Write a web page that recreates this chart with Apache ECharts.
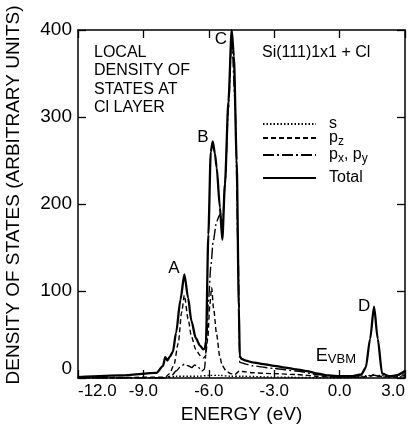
<!DOCTYPE html>
<html>
<head>
<meta charset="utf-8">
<script src="https://cdn.jsdelivr.net/npm/echarts@6/dist/echarts.min.js"></script>
<style>
  html, body { margin: 0; padding: 0; background: #fff; }
  #main { width: 417px; height: 434px; }
</style>
</head>
<body>
<div id="main"></div>
<script>
// 能量刻度 (eV)
var xTicks = [-12, -9, -6, -3, 0, 3];
var yTicks = [0, 100, 200, 300, 400];

// Total
var totalE = [-12.0, -10.0, -8.4, -8.1, -8.0, -7.9, -7.8, -7.65, -7.5, -7.3, -7.12, -6.95, -6.8, -6.6, -6.4, -6.25,
  -6.18, -6.13, -6.02, -5.91, -5.82, -5.72, -5.64, -5.49, -5.38, -5.26, -5.1, -4.95, -4.85, -4.72, -4.62, -4.58,
  -4.5, -4.3, -4.0, -3.5, -3.0, -2.5, -2.0, -1.5, -1.0, -0.5, 0.0, 0.5, 1.0, 1.2, 1.4, 1.58, 1.75, 1.95, 2.3, 2.6, 3.0];
var totalV = [1, 3, 6, 14, 24, 20, 24, 30, 52, 90, 119, 92, 66, 46, 37, 33,
  34, 42, 165, 260, 272, 258, 242, 196, 159, 223, 318, 400, 370, 250, 80, 25,
  22, 20, 18, 16, 14, 12, 10, 8, 5, 3, 2, 2, 4, 12, 45, 82, 45, 5, 2, 3, 8];

// pz
var pzE = [-12.0, -8.0, -7.8, -7.6, -7.4, -7.25, -7.12, -6.95, -6.8, -6.6, -6.4, -6.25, -6.15, -6.05, -5.95, -5.87,
  -5.78, -5.64, -5.5, -5.38, -5.2, -5.0, -4.8, -4.6, -4.3, -4.0, -3.0, -2.0, -1.0, 0.0, 1.0, 1.4, 1.58, 1.8, 2.5, 3.0];
var pzV = [0, 1, 5, 15, 40, 75, 95, 68, 48, 33, 26, 23, 25, 45, 85, 104,
  80, 50, 25, 14, 8, 5, 4, 8, 7, 6, 5, 4, 2, 1, 1, 2, 4, 2, 1, 3];

// px, py
var pxyE = [-12.0, -8.0, -7.7, -7.5, -7.3, -7.1, -6.95, -6.78, -6.65, -6.5, -6.33, -6.2, -6.1, -6.02, -5.9, -5.8,
  -5.64, -5.49, -5.38, -5.26, -5.1, -4.95, -4.8, -4.65, -4.58, -4.3, -4.0, -3.0, -2.0, -1.0, 0.0, 1.0, 1.58, 2.0, 3.0];
var pxyV = [0, 0, 3, 8, 13, 16, 14, 12, 15, 13, 8, 10, 40, 88, 130, 157,
  180, 188, 173, 220, 310, 390, 320, 140, 18, 16, 14, 11, 8, 4, 1, 1, 3, 1, 5];

// s
var sE = [-12.0, -8.0, -7.5, -6.5, -6.0, -5.5, -5.0, -4.5, -3.0, 0.0, 1.58, 3.0];
var sV = [0, 0, 2, 2, 3, 3, 2, 2, 1, 0, 3, 1];

// 峰标记
var peakNames = ['A', 'B', 'C', 'D', 'EVBM'];
var peakE = [-7.6, -6.27, -5.44, 1.12, -0.17];
var peakV = [126, 277, 389, 82, 25];

var FONT = 'Liberation Sans';

function pairs(xs, ys) {
  return xs.map(function(x, i) { return [x, ys[i]]; });
}

var chart = echarts.init(document.getElementById('main'));

var baseLine = { color: '#000', width: 1.4 };
function line(name, e, v, style) {
  return {
    name: name,
    type: 'line',
    symbol: 'none',
    smooth: 0.25,
    smoothMonotone: 'x',
    data: pairs(e, v),
    lineStyle: Object.assign({}, baseLine, style),
    itemStyle: { color: '#000' },
    z: 2
  };
}

var totalSeries = line('Total', totalE, totalV, { width: 2.3 });
totalSeries.z = 5;
totalSeries.markPoint = {
  symbol: 'circle',
  symbolSize: 0,
  label: {
    show: true,
    position: 'inside',
    color: '#000',
    fontFamily: FONT,
    fontSize: 17,
    formatter: function(p) {
      return p.name == 'EVBM' ? '{e|E}{v|VBM}' : p.name;
    },
    rich: {
      e: { fontFamily: FONT, fontSize: 18, color: '#000' },
      v: { fontFamily: FONT, fontSize: 13, color: '#000', padding: [6, 0, 0, 0] }
    }
  },
  data: peakNames.map(function(n, i) {
    return { name: n, coord: [peakE[i], peakV[i]] };
  })
};

var legendRich = {
  t: { fontFamily: FONT, fontSize: 16, color: '#000' },
  sub: { fontFamily: FONT, fontSize: 12, color: '#000', padding: [7, 0, 0, 0] }
};
var legendLabels = {
  's': '{t|s}',
  'pz': '{t|p}{sub|z}',
  'px, py': '{t|p}{sub|x}{t|, p}{sub|y}',
  'Total': '{t|Total}'
};
var legendRows = [['s', 116], ['pz', 130], ['px, py', 147], ['Total', 170]];

var axisLineStyle = { onZero: false, lineStyle: { color: '#000', width: 1.5 } };
var tickStyle = { show: true, inside: true, length: 8, lineStyle: { color: '#000', width: 1.3 } };

var option = {
  animation: false,
  backgroundColor: '#fff',
  textStyle: { fontFamily: FONT, color: '#000' },
  grid: { left: 78, right: 12, top: 30, bottom: 56, outerBoundsMode: 'none' },
  legend: legendRows.map(function(r) {
    return {
      data: [r[0]],
      left: 262,
      top: r[1],
      itemWidth: 53,
      itemHeight: 14,
      padding: 0,
      selectedMode: false,
      itemStyle: { opacity: 0 },
      formatter: function(n) { return legendLabels[n]; },
      textStyle: { padding: [0, 0, 0, 8], rich: legendRich }
    };
  }),
  xAxis: [{
    type: 'value',
    min: xTicks[0],
    max: xTicks[xTicks.length - 1],
    interval: 3,
    name: 'ENERGY (eV)',
    nameLocation: 'middle',
    nameGap: 22,
    nameTextStyle: { fontFamily: FONT, fontSize: 19, color: '#000', verticalAlign: 'top' },
    axisLine: axisLineStyle,
    axisTick: tickStyle,
    axisLabel: {
      color: '#000', fontFamily: FONT, fontSize: 17, margin: 5,
      alignMinLabel: 'left',
      alignMaxLabel: 'right',
      padding: [0, 0, 0, 0],
      formatter: function(v) { return v.toFixed(1); }
    },
    splitLine: { show: false }
  }, {
    type: 'value',
    position: 'top',
    min: xTicks[0],
    max: xTicks[xTicks.length - 1],
    interval: 3,
    axisLine: axisLineStyle,
    axisTick: tickStyle,
    axisLabel: { show: false },
    splitLine: { show: false }
  }],
  yAxis: [{
    type: 'value',
    min: yTicks[0],
    max: yTicks[yTicks.length - 1],
    interval: 100,
    name: 'DENSITY OF STATES (ARBITRARY UNITS)',
    nameLocation: 'middle',
    nameGap: 55,
    nameTextStyle: { fontFamily: FONT, fontSize: 19, color: '#000', padding: [0, 0, 0, 18] },
    axisLine: Object.assign({ show: true }, axisLineStyle),
    axisTick: tickStyle,
    axisLabel: {
      color: '#000', fontFamily: FONT, fontSize: 19, margin: 6,
      verticalAlignMinLabel: 'bottom'
    },
    splitLine: { show: false }
  }, {
    type: 'value',
    position: 'right',
    min: yTicks[0],
    max: yTicks[yTicks.length - 1],
    interval: 100,
    axisLine: Object.assign({ show: true }, axisLineStyle),
    axisTick: tickStyle,
    axisLabel: { show: false },
    splitLine: { show: false }
  }],
  graphic: [{
    type: 'text',
    left: 94,
    top: 43,
    style: {
      text: 'LOCAL\nDENSITY OF\nSTATES AT\nCl LAYER',
      font: '16px "Liberation Sans"',
      lineHeight: 18.5,
      fill: '#000'
    }
  }, {
    type: 'text',
    left: 262,
    top: 45,
    style: {
      text: 'Si(111)1x1 + Cl',
      font: '16px "Liberation Sans"',
      fill: '#000'
    }
  }],
  series: [
    line('s', sE, sV, { type: [1.5, 2] }),
    line('pz', pzE, pzV, { type: [5, 3] }),
    line('px, py', pxyE, pxyV, { type: [11, 3, 2, 3] }),
    totalSeries
  ]
};

chart.setOption(option);
</script>
</body>
</html>
